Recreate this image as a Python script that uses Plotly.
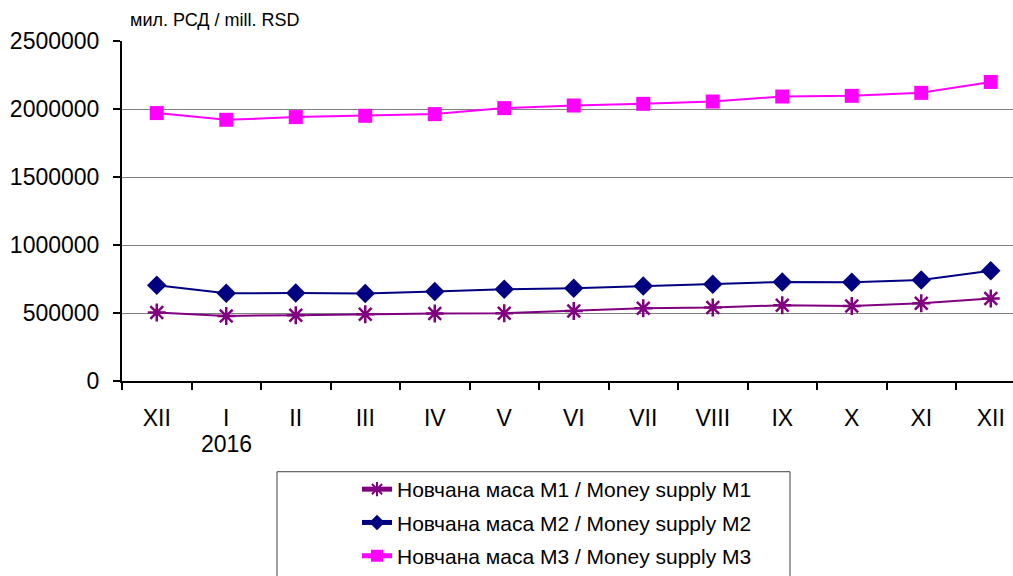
import plotly.graph_objects as go

categories = ["XII", "I", "II", "III", "IV", "V", "VI", "VII", "VIII", "IX", "X", "XI", "XII"]
year_label = "2016"
m1 = [503600, 478700, 483800, 491200, 496300, 498500, 515400, 535200, 540300, 557200, 552000, 571800, 606300]
m2 = [703800, 645100, 647400, 642700, 657500, 674500, 681800, 698900, 711100, 728000, 725800, 742900, 810000]
m3 = [1970000, 1920700, 1940500, 1950000, 1962500, 2006500, 2025600, 2038000, 2055000, 2091600, 2096700, 2118700, 2199000]
y_ticks = [0, 500000, 1000000, 1500000, 2000000, 2500000]
names = ["Новчана маса M1 / Money supply M1",
         "Новчана маса M2 / Money supply M2",
         "Новчана маса M3 / Money supply M3"]
unit_label = "мил. РСД / mill. RSD"

FONT = "Arial, 'Liberation Sans', sans-serif"
x = list(range(len(categories)))

fig = go.Figure()
fig.add_trace(go.Scatter(x=x, y=m1, name=names[0], mode="lines+markers", legendgroup="g1",
                         line=dict(color="#800080", width=2),
                         marker=dict(symbol="asterisk-open", size=15,
                                     line=dict(color="#800080", width=2.5))))
fig.add_trace(go.Scatter(x=x, y=m2, name=names[1], mode="lines+markers", legendgroup="g2",
                         line=dict(color="#000080", width=2),
                         marker=dict(symbol="diamond", size=15, color="#000080")))
fig.add_trace(go.Scatter(x=x, y=m3, name=names[2], mode="lines+markers", legendgroup="g3",
                         line=dict(color="#FF00FF", width=2),
                         marker=dict(symbol="square", size=14, color="#FF00FF")))

fig.update_layout(
    width=1013, height=576,
    margin=dict(l=122, r=0, t=41, b=194),
    paper_bgcolor="white", plot_bgcolor="white",
    font=dict(family=FONT, color="black"),
    showlegend=True,
    legend=dict(x=(357 - 122) / 891, y=-(470 - 382) / 341, xanchor="left", yanchor="top",
                font=dict(size=21, family=FONT), bgcolor="rgba(0,0,0,0)",
                borderwidth=0, tracegroupgap=3, itemsizing="constant"),
)
fig.update_xaxes(
    range=[-0.5, 12.32], tickmode="array", tickvals=x, ticktext=categories,
    ticks="", showgrid=False, zeroline=False,
    showline=True, linecolor="black", linewidth=2,
    tickfont=dict(size=23), ticklabelstandoff=15,
    minor=dict(tickmode="array", tickvals=[i - 0.5 for i in range(14)],
               ticks="outside", ticklen=7, tickcolor="black", tickwidth=2, showgrid=False),
)
fig.update_yaxes(
    range=[0, 2500000], tickmode="array", tickvals=y_ticks,
    ticktext=[str(v) for v in y_ticks],
    ticks="outside", ticklen=7, tickcolor="black", tickwidth=2,
    showgrid=True, gridcolor="#808080", gridwidth=1, zeroline=False,
    showline=True, linecolor="black", linewidth=2,
    tickfont=dict(size=23), ticklabelstandoff=9,
)
fig.add_annotation(x=1, y=0, xref="x", yref="y domain", yshift=-63, text=year_label,
                   showarrow=False, font=dict(size=23), yanchor="middle")
fig.add_annotation(x=0, y=1.0, xref="x domain", yref="y domain", xshift=6, yshift=21,
                   text=unit_label, showarrow=False, font=dict(size=18),
                   xanchor="left", yanchor="middle")
fig.add_shape(type="rect", xref="paper", yref="paper",
              x0=(277 - 122) / 891, x1=(790 - 122) / 891,
              y0=(382 - 580) / 341, y1=(382 - 473) / 341,
              line=dict(color="#404040", width=1), fillcolor="rgba(0,0,0,0)")

fig.write_html("out.html", config={"displayModeBar": False},
               post_script="document.body.style.margin='0';document.body.style.overflow='hidden';")
